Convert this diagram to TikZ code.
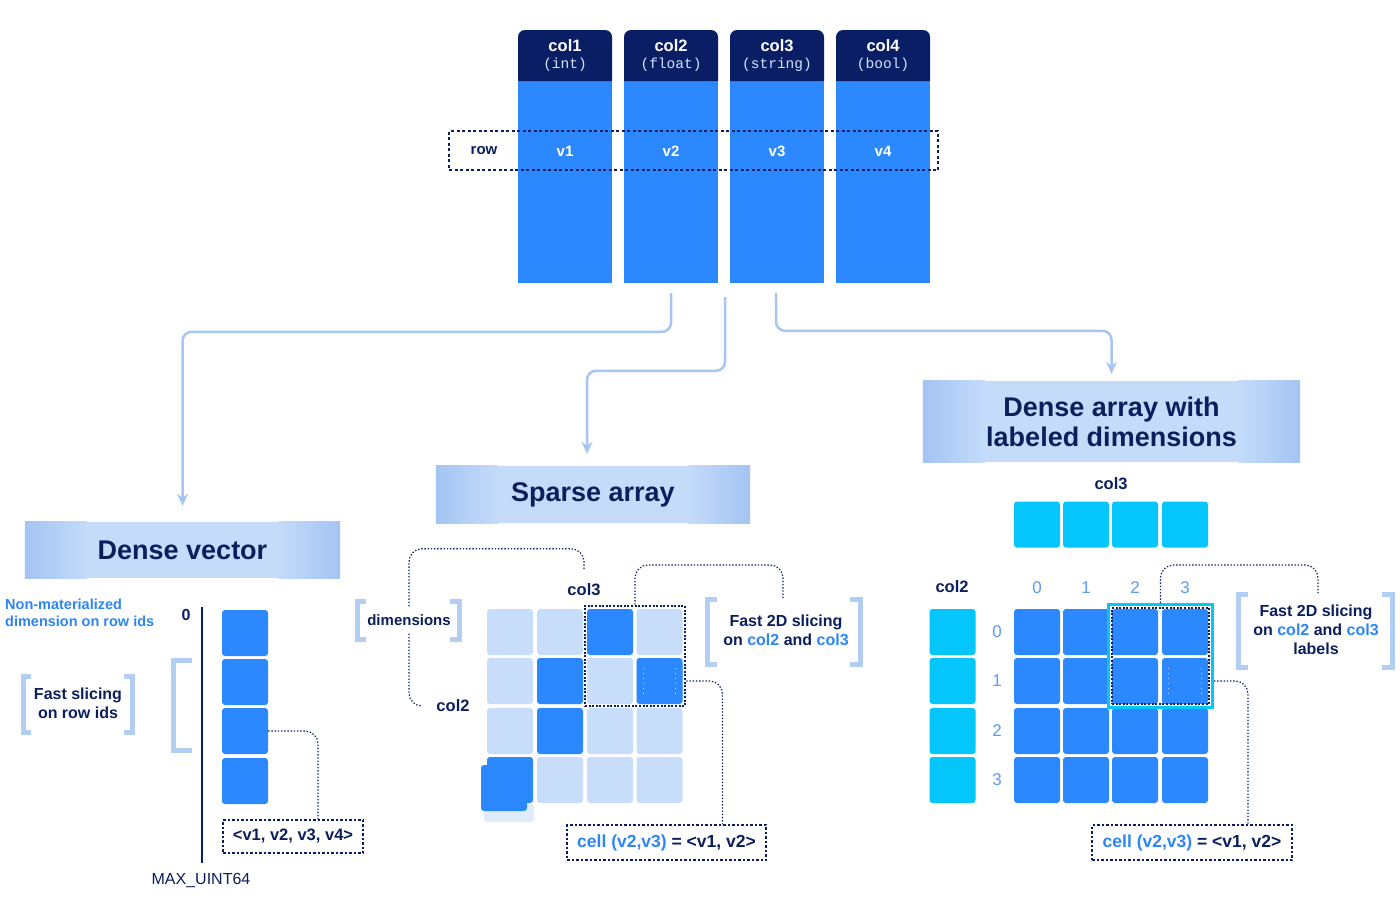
\documentclass[tikz,border=0pt]{standalone}
\usepackage{fontspec}
\setmainfont{Liberation Sans}
\newfontfamily\monofont{Liberation Mono}
\usetikzlibrary{arrows.meta,calc}
\definecolor{navy}{HTML}{0A1E66}
\definecolor{txtnavy}{HTML}{0B1F5C}
\definecolor{cblue}{HTML}{2B88FF}
\definecolor{clight}{HTML}{C7DDFA}
\definecolor{ccyan}{HTML}{05C6FA}
\definecolor{bannerA}{HTML}{A4C4F3}
\definecolor{bannerB}{HTML}{C4DBFA}
\definecolor{arrowc}{HTML}{A7C6F2}
\definecolor{brk}{HTML}{B3CEF3}
\definecolor{tblue}{HTML}{2E86F5}
\definecolor{idx}{HTML}{5C9CF2}
\definecolor{headsub}{HTML}{D3E4FF}
\newcommand\brkL[4]{\draw[brk,line width=5pt] (#1+#4,#2) -- (#1,#2) -- (#1,#3) -- (#1+#4,#3);}
\newcommand\brkR[4]{\draw[brk,line width=5pt] (#1-#4,#2) -- (#1,#2) -- (#1,#3) -- (#1-#4,#3);}
\begin{document}
\begin{tikzpicture}[x=1pt,y=-1pt,
  cell/.style={rounded corners=3pt, minimum width=46pt, minimum height=46pt, inner sep=0pt},
  cB/.style={cell, fill=cblue},
  cL/.style={cell, fill=clight},
  cC/.style={cell, fill=ccyan},
  banner/.style={fill=bannerB, inner sep=0pt, text=txtnavy, font=\fontsize{27}{30}\selectfont\bfseries, align=center},
  flow/.style={draw=arrowc, line width=2.5pt, rounded corners=9pt, -{Stealth[length=12pt,width=11pt]}},
  dotc/.style={draw=navy, line width=1.2pt, dash pattern=on 1.4pt off 1.8pt, rounded corners=13pt},
  valbox/.style={draw=navy, line width=1.1pt, dash pattern=on 2.5pt off 2pt, inner sep=0pt, font=\fontsize{16.5}{19}\selectfont\bfseries, text=txtnavy},
  lbl/.style={text=txtnavy, font=\fontsize{16}{19}\selectfont\bfseries, inner sep=0pt, align=center},
  idxl/.style={text=idx, font=\fontsize{17}{19}\selectfont, inner sep=0pt},
  hdr/.style={text=white, font=\fontsize{16.5}{18}\selectfont\bfseries, inner sep=0pt},
  hsub/.style={text=headsub, font=\fontsize{14.5}{16}\selectfont\monofont, inner sep=0pt},
  selmark/.style={white, opacity=0.7, line width=0.7pt, dash pattern=on 1pt off 4pt},
]
\useasboundingbox (0,0) rectangle (1400,918);
\fill[white] (0,0) rectangle (1400,918);

% ---------------- table columns ----------------
\foreach \i/\x/\n/\t in {1/518/col1/(int),2/624/col2/(float),3/730/col3/(string),4/836/col4/(bool)}{
  \fill[cblue] (\x,81) rectangle (\x+94,283);
  \fill[navy] (\x,81) [rounded corners=7pt] -- (\x,30) -- (\x+94,30) [sharp corners] -- (\x+94,81) -- cycle;
  \node[inner sep=0pt,minimum width=94pt,minimum height=253pt] (c\i) at (\x+47,156.5) {};
  \node[hdr] (h\i) at (\x+47,46) {\n};
  \node[hsub] (t\i) at (\x+47,65) {\t};
  \node[hdr, font=\fontsize{15}{17}\selectfont\bfseries] (v\i) at (\x+47,151) {v\i};
}
\node[draw=navy, dash pattern=on 3pt off 2.5pt, line width=1.7pt, minimum width=489pt, minimum height=39pt, inner sep=0pt] (row) at (693.5,150.5) {};
\node[lbl, font=\fontsize{15}{17}\selectfont\bfseries] (rowl) at (484,151) {row};

% ---------------- banners ----------------
\node[banner, minimum width=315pt, minimum height=56pt] (dv) at (182.5,550) {};
\node[banner, minimum width=314pt, minimum height=57pt] (sa) at (593,494.5) {};
\node[banner, minimum width=377pt, minimum height=81pt] (da) at (1111.5,421.5) {};
\foreach \b in {dv,sa,da}{
  \shade[left color=bannerA, right color=bannerB] (\b.north west) rectangle ($(\b.south west)+(62,0)$);
  \shade[left color=bannerB, right color=bannerA] ($(\b.north east)+(-62,0)$) rectangle (\b.south east);
}
\node[text=txtnavy, font=\fontsize{27}{30}\selectfont\bfseries, inner sep=0pt] (dvt) at (dv) {Dense vector};
\node[text=txtnavy, font=\fontsize{27}{30}\selectfont\bfseries, inner sep=0pt] (sat) at (sa) {Sparse array};
\node[text=txtnavy, font=\fontsize{27}{30}\selectfont\bfseries, inner sep=0pt, align=center] (dat) at (da) {Dense array with\\labeled dimensions};

% ---------------- flow arrows ----------------
\draw[flow] ($(c2.south)+(0,10)$) |- ($(dv.north)+(0,-190)$) -- ($(dv.north)+(0,-16)$);
\draw[flow] ($(c2.south east)!0.5!(c3.south west)+(1,14)$) |- ($(sa.north)+(-6,-95)$) -- ($(sa.north)+(-6,-12)$);
\draw[flow] ($(c3.south)+(-1,10)$) |- ($(da.north)+(0,-50)$) -- ($(da.north)+(0,-7)$);

% ---------------- dense vector ----------------
\node[anchor=west, align=left, text=tblue, font=\fontsize{14.5}{17}\selectfont\bfseries, inner sep=0pt] (nm) at (5,612.5) {Non-materialized\\dimension on row ids};
\node[lbl] (z0) at (186,615) {0};
\coordinate (axtop) at (202,607);
\node[lbl, font=\fontsize{16}{19}\selectfont] (mx) at (201,880) {MAX\_UINT64};
\draw[navy, line width=2pt] (axtop) -- ($(mx.north)+(1,-10)$);
\node[cB] (e1) at (245,633) {};
\node[cB] (e2) at (245,682) {};
\node[cB] (e3) at (245,731) {};
\node[cB] (e4) at (245,781) {};
\brkL{173}{660}{750}{19}
\node[lbl] (fs1) at (78,703) {Fast slicing\\on row ids};
\brkL{23}{676}{732}{8}
\brkR{132}{676}{732}{8}
\node[valbox, minimum width=140pt, minimum height=33pt] (vec) at (293,836.5) {<v1, v2, v3, v4>};
\draw[dotc] (e3.east) -| ($(vec.north)+(25,0)$);

% ---------------- sparse array ----------------
\fill[clight!55, rounded corners=3pt] (484,804) rectangle (534,822);
\foreach \r/\y in {0/632,1/681,2/731,3/780}{
  \foreach \c/\x in {0/510,1/560,2/610,3/659.5}{
    \node[cL] (s\r\c) at (\x,\y) {};
  }
}
\foreach \r/\c/\x/\y in {0/2/610/632,1/1/560/681,1/3/659.5/681,2/1/560/731,3/0/510/780}{
  \node[cB] (s\r\c) at (\x,\y) {};
}
\node[cB] (sshift) at (504,788) {};
\draw[selmark] ($(s13.north west)+(7,10)$) -- ($(s13.south west)+(7,-10)$);
\draw[selmark] ($(s13.north east)+(-7,10)$) -- ($(s13.south east)+(-7,-10)$);
\node[draw=navy, line width=2.6pt, dash pattern=on 2pt off 1.6pt, minimum width=100pt, minimum height=100pt, inner sep=0pt] (sel1) at (635,656) {};
\node[lbl, font=\fontsize{16.5}{19}\selectfont\bfseries] (col3s) at (584,590) {col3};
\node[lbl, font=\fontsize{16.5}{19}\selectfont\bfseries] (col2s) at (453,706) {col2};
\node[lbl, font=\fontsize{15}{17}\selectfont\bfseries, inner ysep=8pt] (dim) at (409,620) {dimensions};
\brkL{357}{601}{639}{9}
\brkR{459}{601}{639}{9}
\coordinate (k1) at ($(col3s.north)+(0,-35)$);
\draw[dotc] (dim.north) |- (k1) -- ($(col3s.north)+(0,-13)$);
\draw[dotc] (dim.south) |- ($(col2s.west)+(-14,0)$);
\node[lbl] (fs2) at (786,630.5) {Fast 2D slicing\\on {\color{tblue}col2} and {\color{tblue}col3}};
\brkL{707}{599}{664}{10}
\brkR{860}{599}{664}{10}
\coordinate (k2) at (783,565);
\coordinate (k2e) at (783,598);
\draw[dotc] (sel1.north) |- (k2) -- (k2e);
\node[valbox, minimum width=199pt, minimum height=35pt, font=\fontsize{17.5}{20}\selectfont\bfseries] (cb1) at (666.5,842.5) {{\color{tblue}cell (v2,v3)} = <v1, v2>};
\draw[dotc] (sel1.east |- s13.east) -| ($(cb1.north)+(56,0)$);

% ---------------- dense array ----------------
\node[lbl, font=\fontsize{16.5}{19}\selectfont\bfseries] (col3d) at (1111,484) {col3};
\node[lbl, font=\fontsize{16.5}{19}\selectfont\bfseries] (col2d) at (952,587) {col2};
\foreach \c/\x in {0/1037,1/1086,2/1135,3/1185}{
  \node[cC] (tc\c) at (\x,524.5) {};
  \node[idxl] (ti\c) at (\x,588) {\c};
}
\foreach \r/\y in {0/632,1/681,2/731,3/780}{
  \node[cC] (lc\r) at (952.5,\y) {};
  \node[idxl] (li\r) at (997,\y) {\r};
  \foreach \c/\x in {0/1037,1/1086,2/1135,3/1185}{
    \node[cB] (d\r\c) at (\x,\y) {};
  }
}
\draw[selmark] ($(d13.north west)+(7,10)$) -- ($(d13.south west)+(7,-10)$);
\draw[selmark] ($(d13.north east)+(-7,10)$) -- ($(d13.south east)+(-7,-10)$);
\node[draw=ccyan, line width=3pt, minimum width=104pt, minimum height=103pt, inner sep=0pt] (sel2) at (1160.5,656) {};
\node[draw=navy, line width=2.4pt, dash pattern=on 2pt off 1.6pt, minimum width=97pt, minimum height=96pt, inner sep=0pt] (sel2i) at (1160.5,656) {};
\node[lbl] (fs3) at (1316,630) {Fast 2D slicing\\on {\color{tblue}col2} and {\color{tblue}col3}\\labels};
\brkL{1238}{594}{667}{10}
\brkR{1392}{594}{667}{10}
\coordinate (k3) at (1318,565);
\coordinate (k3e) at (1318,593);
\draw[dotc] (sel2.north) |- (k3) -- (k3e);
\node[valbox, minimum width=200pt, minimum height=35pt, font=\fontsize{17.5}{20}\selectfont\bfseries] (cb2) at (1192,842.5) {{\color{tblue}cell (v2,v3)} = <v1, v2>};
\draw[dotc] (sel2.east |- d13.east) -| ($(cb2.north)+(56,0)$);
\end{tikzpicture}
\end{document}
